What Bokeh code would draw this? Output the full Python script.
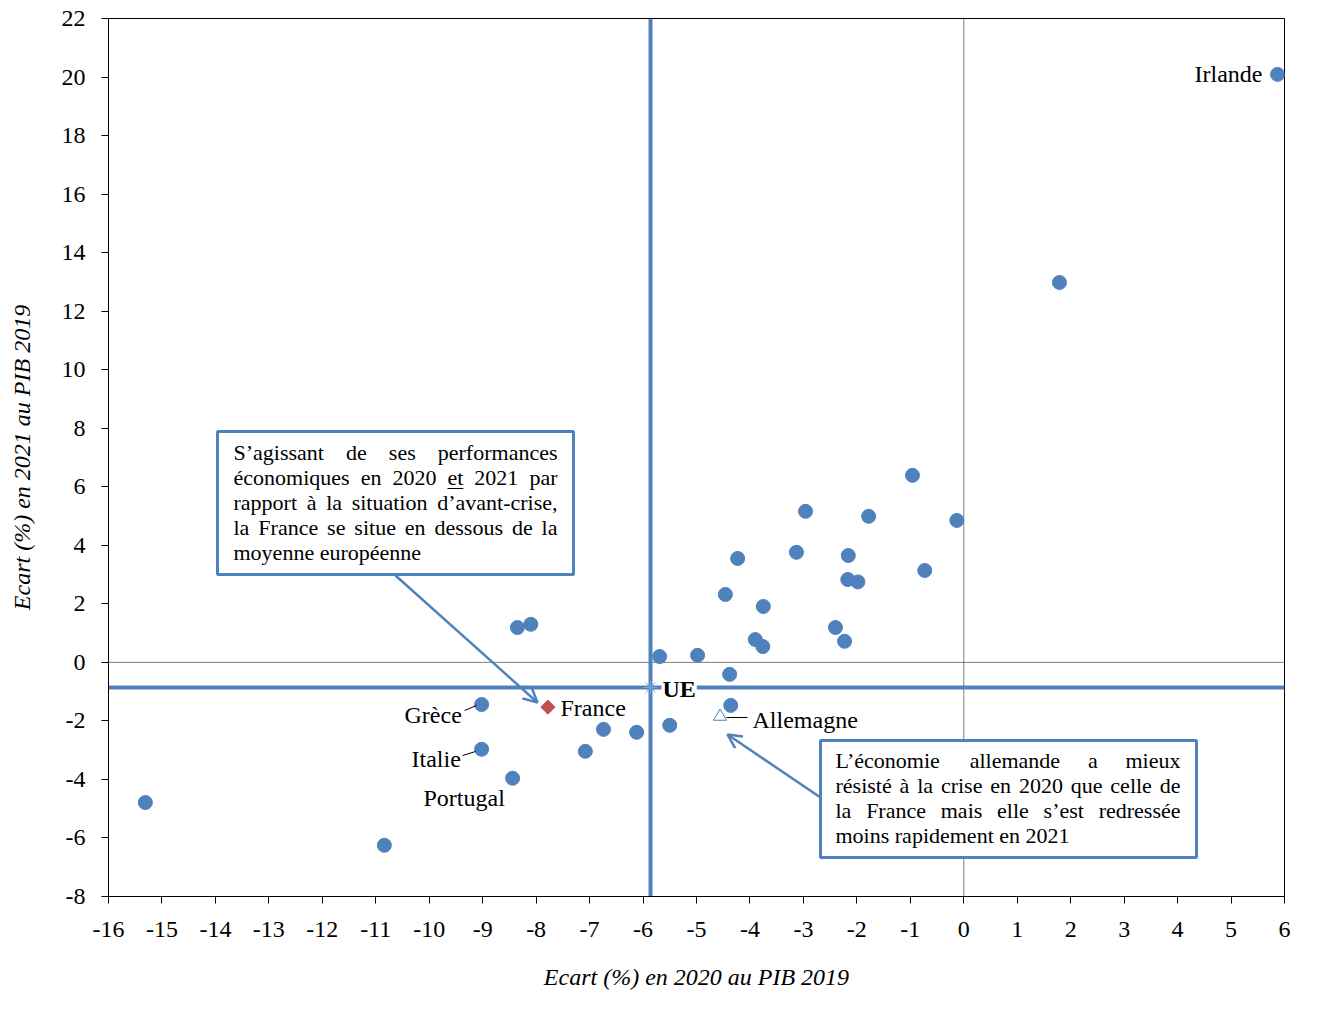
import math
from bokeh.plotting import figure
from bokeh.models import FixedTicker, Arrow, OpenHead, Range1d, Label, CustomJSTickFormatter
from bokeh.embed import file_html
from bokeh.resources import INLINE
from bokeh.core.properties import value

# ---------------- data ----------------
# unlabeled countries: gap (%) in 2020 vs 2019 GDP, gap (%) in 2021 vs 2019 GDP
other_x2020 = [1.79, -0.96, -0.13, -0.73, -1.78, -2.96, -3.13, -2.16, -2.17, -1.98,
               -4.23, -4.46, -3.75, -3.90, -3.76, -2.40, -2.23, -5.69, -4.98, -4.38,
               -4.36, -5.50, -6.12, -6.74, -7.08, -8.35, -8.10, -15.31, -10.84]
other_y2021 = [12.98, 6.39, 4.85, 3.14, 4.99, 5.16, 3.76, 3.65, 2.83, 2.75,
               3.55, 2.32, 1.91, 0.78, 0.54, 1.19, 0.72, 0.20, 0.24, -0.41,
               -1.47, -2.15, -2.39, -2.29, -3.04, 1.19, 1.30, -4.79, -6.25]

named_countries = ["Irlande", "Grèce", "Italie", "Portugal"]
named_x2020 = [5.87, -9.02, -9.02, -8.44]
named_y2021 = [20.09, -1.44, -2.97, -3.96]

france_x, france_y = [-7.78], [-1.53]
allemagne_x, allemagne_y = [-4.56], [-1.85]
ue_x, ue_y = -5.86, -0.86

x_ticks = list(range(-16, 7))
y_ticks = list(range(-8, 23, 2))

note_france = ["S’agissant de ses performances",
               "économiques en 2020 et 2021 par",
               "rapport à la situation d’avant-crise,",
               "la France se situe en dessous de la",
               "moyenne européenne"]
note_allemagne = ["L’économie allemande a mieux",
                  "résisté à la crise en 2020 que celle de",
                  "la France mais elle s’est redressée",
                  "moins rapidement en 2021"]

BLUE = "#4F81BD"
RED = "#C0504D"
FONT = "Liberation Serif"

# page-pixel -> data helpers (annotation layout only)
def X(px):
    return -16 + (px - 108) * 22 / 1176

def Y(py):
    return 22 - (py - 18) * 30 / 878

# Times/Liberation Serif advance widths (1/1000 em) for justification
W = {" ": 250, "’": 333, ",": 250, "-": 333, "S": 556, "L": 611, "F": 556,
     "a": 444, "b": 500, "c": 444, "d": 500, "e": 444, "f": 333, "g": 500, "h": 500,
     "i": 278, "j": 278, "k": 500, "l": 278, "m": 778, "n": 500, "o": 500, "p": 500,
     "q": 500, "r": 333, "s": 389, "t": 278, "u": 500, "v": 500, "w": 722, "x": 500,
     "y": 500, "z": 444, "é": 444, "è": 444, "à": 444}
for d in "0123456789":
    W[d] = 500

def tw(s, size):
    return sum(W.get(ch, 500) for ch in s) * size / 1000.0

p = figure(width=1310, height=1000, output_backend="svg", toolbar_location=None,
           x_range=Range1d(-16, 6), y_range=Range1d(-8, 22),
           min_border_left=108, min_border_right=26, min_border_top=18, min_border_bottom=104)
p.background_fill_color = "white"
p.border_fill_color = "white"
p.outline_line_color = "black"
p.outline_line_width = 1
p.xgrid.visible = False
p.ygrid.visible = False

for ax in (p.xaxis[0], p.yaxis[0]):
    ax.major_label_text_font = FONT
    ax.major_label_text_font_size = "24px"
    ax.major_label_text_color = "black"
    ax.axis_line_color = "black"
    ax.major_tick_line_color = "black"
    ax.major_tick_in = 0
    ax.major_tick_out = 7
    ax.minor_tick_line_color = None
    ax.axis_label_text_font = FONT
    ax.axis_label_text_font_size = "24px"
    ax.axis_label_text_font_style = "italic"
    ax.axis_label_text_color = "black"
    ax.formatter = CustomJSTickFormatter(code="return tick.toString();")

p.xaxis.ticker = FixedTicker(ticks=x_ticks)
p.yaxis.ticker = FixedTicker(ticks=y_ticks)
p.xaxis.major_label_standoff = 18
p.yaxis.major_label_standoff = 16
p.xaxis.axis_label = "Ecart (%) en 2020 au PIB 2019"
p.yaxis.axis_label = "Ecart (%) en 2021 au PIB 2019"
p.xaxis.axis_label_standoff = 24
p.yaxis.axis_label_standoff = 24

# zero reference lines (dotted)
p.segment(x0=[0, -16], y0=[-8, 0], x1=[0, 6], y1=[22, 0],
          line_color="black", line_width=1, line_dash="1 1")
# EU average lines
p.segment(x0=[ue_x, -16], y0=[-8, ue_y], x1=[ue_x, 6], y1=[22, ue_y],
          line_color=BLUE, line_width=4)

# annotation boxes
p.quad(left=[X(217), X(820)], right=[X(573), X(1196)],
       top=[Y(431), Y(740)], bottom=[Y(574), Y(857)],
       fill_color="white", line_color=BLUE, line_width=3)

# points
p.scatter(other_x2020, other_y2021, size=14, color=BLUE, line_color=BLUE)
p.scatter(named_x2020, named_y2021, size=14, color=BLUE, line_color=BLUE)
p.scatter(france_x, france_y, marker="square", size=10, angle=math.pi / 4,
          color=RED, line_color=RED)
p.scatter(allemagne_x, allemagne_y, marker="triangle", size=13,
          fill_color="white", line_color=BLUE, line_width=1)
p.scatter([ue_x], [ue_y], marker="asterisk", size=14, line_color="#7FA3D1", line_width=1)

# leader lines
p.segment(x0=[X(464), X(462), X(726)], y0=[Y(710), Y(755), Y(717)],
          x1=[X(476), X(475), X(747)], y1=[Y(705), Y(751), Y(717)],
          line_color="black", line_width=1)

# country labels
lab_font = dict(text_font=value(FONT), text_font_size="24px", text_color="black",
                text_baseline="middle")
p.text(x=[X(1262)], y=[Y(73.5)], text=[named_countries[0]], text_align="right", **lab_font)
p.text(x=[X(404), X(411), X(423), X(560), X(752)],
       y=[Y(714.5), Y(758.5), Y(797), Y(707), Y(719)],
       text=named_countries[1:] + ["France", "Allemagne"],
       text_align="left", **lab_font)

ue_label = Label(x=X(661), y=Y(688.5), text="UE", text_font=FONT, text_font_size="24px",
                 text_font_style="bold", text_color="black", text_baseline="middle",
                 text_align="left", background_fill_color="white", padding=1)
p.add_layout(ue_label)

# justified note texts
BOX_SIZE = 22
wx, wy, wt = [], [], []
underline = None

def justify(lines, left, right, top, step):
    global underline
    for i, line in enumerate(lines):
        py = top + i * step
        words = line.split(" ")
        last = (i == len(lines) - 1)
        if last or len(words) == 1:
            wx.append(X(left)); wy.append(Y(py)); wt.append(line)
            continue
        widths = [tw(w, BOX_SIZE) for w in words]
        gap = (right - left - sum(widths)) / (len(words) - 1)
        x = left
        for w, ww in zip(words, widths):
            wx.append(X(x)); wy.append(Y(py)); wt.append(w)
            if w == "et" and underline is None:
                underline = (x, x + ww, py + 11)
            x += ww + gap

justify(note_france, 233, 557, 452, 25)
justify(note_allemagne, 835, 1180, 760, 25)
p.text(x=wx, y=wy, text=wt, text_align="left", text_baseline="middle",
       text_font=value(FONT), text_font_size=f"{BOX_SIZE}px", text_color="black")

# underline of "et"
if underline:
    ux0, ux1, uy = underline
    p.segment(x0=[X(ux0)], y0=[Y(uy)], x1=[X(ux1)], y1=[Y(uy)],
              line_color="black", line_width=1)

# arrows
p.add_layout(Arrow(end=OpenHead(size=14, line_color=BLUE, line_width=2.5),
                   x_start=X(395), y_start=Y(575), x_end=X(537), y_end=Y(702),
                   line_color=BLUE, line_width=2.5))
p.add_layout(Arrow(end=OpenHead(size=14, line_color=BLUE, line_width=2.5),
                   x_start=X(820), y_start=Y(797), x_end=X(727), y_end=Y(734),
                   line_color=BLUE, line_width=2.5))

open("out.html", "w").write(file_html(p, INLINE))
